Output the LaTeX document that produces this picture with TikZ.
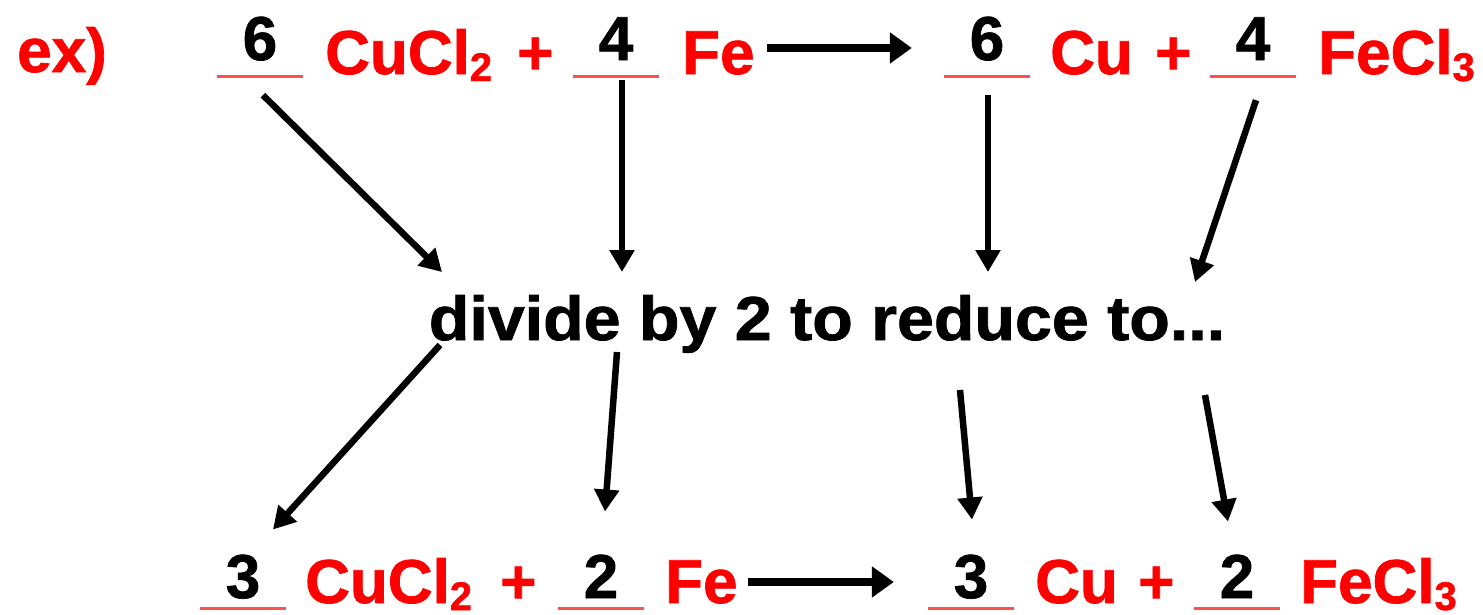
\documentclass[tikz,border=0pt]{standalone}
\usepackage{fontspec}
\setmainfont[BoldFeatures={FakeBold=1.2}]{Liberation Sans}
\usetikzlibrary{arrows.meta}

\definecolor{blankred}{RGB}{255,80,80}
\newcommand\bigfont{\fontsize{62}{70}\selectfont\bfseries}
\newcommand\chemsub[1]{\raisebox{-7pt}{\fontsize{40}{40}\selectfont #1}}

\begin{document}
\begin{tikzpicture}[
    x=1pt, y=-1pt,
    every node/.style={inner sep=0pt, font=\bigfont},
    chem/.style={text=red, anchor=base west},
    coef/.style={anchor=base, minimum width=86pt, text depth=16pt},
    coeflow/.style={coef, text depth=10pt},
    blank/.style={draw=blankred, line width=3pt},
    react/.style={line width=8pt, -{Triangle[length=22pt,width=30pt]}},
    ptr/.style={line width=6.5pt, -{Triangle[length=22pt,width=24pt]}}
]
\useasboundingbox (0,0) rectangle (1483,614);

% Top equation
\node[chem] (ex) at (17,72) {ex)};
\node[coef] (c1) at (260,60) {6};
\node[chem] (cucl1) at (325,74) {CuCl\chemsub{2}};
\node[chem] (plus1) at (517,74) {+};
\node[coef] (c2) at (616,60) {4};
\node[chem] (fe1) at (682,74) {Fe};
\node[coef] (c3) at (987,60) {6};
\node[chem] (cu1) at (1050,74) {Cu};
\node[chem] (plus2) at (1155,74) {+};
\node[coef] (c4) at (1253,60) {4};
\node[chem] (fecl1) at (1318,74) {FeCl\chemsub{3}};

% Middle
\node[anchor=base, xscale=1.07] (mid) at (827,340) {divide by 2 to reduce to...};

% Bottom equation
\node[coeflow] (d1) at (243,598) {3};
\node[chem] (cucl2) at (305,603) {CuCl\chemsub{2}};
\node[chem] (plus3) at (500,603) {+};
\node[coeflow] (d2) at (601,598) {2};
\node[chem] (fe2) at (665,603) {Fe};
\node[coeflow] (d3) at (971,598) {3};
\node[chem] (cu2) at (1035,603) {Cu};
\node[chem] (plus4) at (1138,603) {+};
\node[coeflow] (d4) at (1237,598) {2};
\node[chem] (fecl2) at (1300,603) {FeCl\chemsub{3}};

% Blanks
\foreach \n in {c1,c2,c3,c4,d1,d2,d3,d4}
  \draw[blank] (\n.south west) -- (\n.south east);

% Reaction arrows
\draw[react] ([xshift=12pt,yshift=5pt]fe1.east) -- ([xshift=-32pt,yshift=5pt]fe1.east -| c3.west);
\draw[react] ([xshift=10pt,yshift=0pt]fe2.east) -- ([xshift=-34pt,yshift=0pt]fe2.east -| d3.west);

% Arrow ends around the middle text
\coordinate (m1) at (442,272);
\coordinate (m2) at (622,272);
\coordinate (m3) at (988,272);
\coordinate (m4) at (1195,282);
\coordinate (n1) at (440,345);
\coordinate (n2) at (617,352);
\coordinate (n3) at (960,390);
\coordinate (n4) at (1205,395);

% Top to middle
\draw[ptr] ([xshift=3pt,yshift=-19pt]c1.south) -- (m1);
\draw[ptr] ([xshift=6pt,yshift=-4pt]c2.south) -- (m2);
\draw[ptr] ([xshift=1pt,yshift=-19pt]c3.south) -- (m3);
\draw[ptr] ([xshift=3pt,yshift=-24pt]c4.south) -- (m4);

% Middle to bottom
\draw[ptr] (n1) -- ([xshift=30pt,yshift=25pt]d1.north);
\draw[ptr] (n2) -- ([xshift=4pt,yshift=43pt]d2.north);
\draw[ptr] (n3) -- ([xshift=1pt,yshift=35pt]d3.north);
\draw[ptr] (n4) -- ([xshift=-9pt,yshift=33pt]d4.north);

\end{tikzpicture}
\end{document}
